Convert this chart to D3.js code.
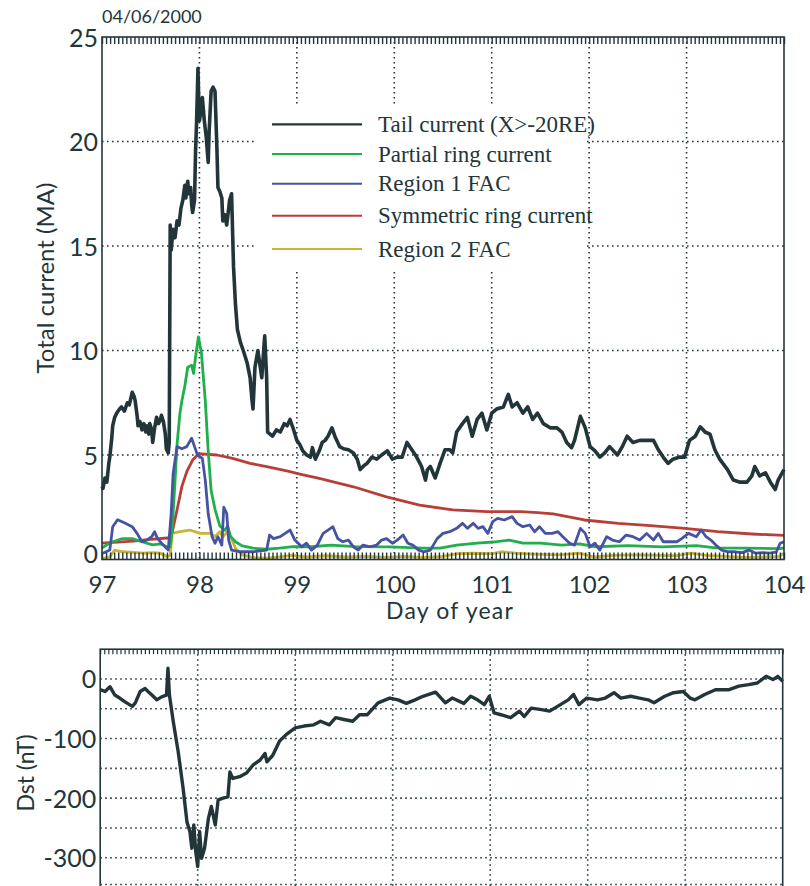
<!DOCTYPE html>
<html><head><meta charset="utf-8">
<script src="https://cdn.jsdelivr.net/npm/d3@7/dist/d3.min.js"></script>
<style>body{margin:0;background:#fff}svg{display:block}</style>
</head><body><svg id="c" width="810" height="886"></svg>
<script>
// ---------------- DATA ----------------
const dateLabel = "04/06/2000";
const dayTicks = [97, 98, 99, 100, 101, 102, 103, 104];
const currentTicks = [0, 5, 10, 15, 20, 25];
const currentGrid = [5, 10, 15, 20];
const dstTicks = [0, -100, -200, -300];
const dstGrid = [0, -50, -100, -150, -200, -250, -300];
const seriesNames = ["Tail current (X>-20RE)", "Partial ring current", "Region 1 FAC", "Symmetric ring current", "Region 2 FAC"];

const tailCurrent = [[97.00,3.5],[97.01,3.4],[97.03,3.9],[97.05,3.7],[97.07,4.6],[97.08,4.9],[97.10,5.8],[97.11,6.4],[97.13,6.8],[97.15,7.0],[97.18,7.2],[97.20,7.3],[97.23,7.1],[97.26,7.5],[97.28,7.4],[97.31,8.0],[97.33,7.8],[97.34,7.6],[97.36,6.9],[97.37,6.4],[97.39,6.6],[97.41,6.2],[97.43,6.5],[97.45,6.1],[97.46,6.4],[97.48,6.0],[97.49,6.5],[97.51,6.2],[97.52,5.6],[97.54,6.3],[97.56,6.8],[97.58,6.5],[97.60,6.7],[97.61,6.9],[97.63,6.6],[97.65,6.0],[97.66,5.3],[97.68,5.1],[97.69,5.6],[97.70,16.0],[97.71,14.8],[97.73,15.8],[97.75,15.4],[97.77,16.2],[97.79,16.0],[97.81,16.8],[97.83,17.2],[97.85,17.9],[97.86,17.3],[97.88,18.1],[97.89,17.5],[97.91,17.8],[97.92,17.0],[97.93,16.6],[97.95,17.2],[97.96,19.5],[97.97,20.8],[97.985,23.5],[97.99,22.5],[98.00,21.0],[98.02,21.6],[98.03,22.1],[98.05,21.0],[98.07,20.2],[98.09,19.0],[98.10,20.5],[98.12,22.4],[98.14,22.6],[98.16,22.4],[98.18,19.6],[98.19,17.8],[98.21,17.6],[98.23,17.3],[98.24,16.2],[98.26,16.5],[98.28,16.0],[98.30,16.8],[98.31,17.2],[98.33,17.5],[98.35,14.0],[98.37,12.2],[98.39,11.0],[98.42,10.4],[98.45,10.0],[98.49,9.4],[98.52,8.7],[98.54,7.6],[98.55,7.2],[98.57,9.2],[98.60,10.0],[98.64,8.7],[98.67,10.7],[98.69,8.7],[98.70,6.1],[98.75,5.9],[98.79,6.2],[98.83,6.1],[98.87,6.5],[98.90,6.4],[98.93,6.7],[98.96,6.3],[99.00,5.7],[99.03,5.5],[99.06,5.2],[99.10,5.0],[99.14,4.9],[99.16,5.35],[99.19,4.8],[99.23,5.2],[99.26,5.6],[99.29,5.7],[99.32,5.9],[99.36,6.3],[99.39,5.9],[99.44,5.4],[99.48,5.3],[99.53,5.25],[99.58,5.1],[99.62,4.8],[99.65,4.3],[99.69,4.5],[99.72,4.6],[99.77,4.9],[99.82,4.8],[99.87,5.0],[99.93,5.2],[99.98,4.8],[100.03,4.9],[100.08,4.9],[100.13,5.6],[100.18,5.25],[100.23,4.9],[100.28,4.45],[100.32,3.8],[100.34,4.3],[100.37,4.45],[100.42,3.9],[100.47,4.6],[100.52,5.25],[100.57,5.25],[100.60,5.1],[100.64,6.1],[100.70,6.5],[100.75,6.8],[100.80,5.9],[100.85,6.7],[100.90,7.0],[100.95,6.2],[101.00,7.0],[101.05,7.2],[101.12,7.3],[101.17,7.9],[101.21,7.3],[101.26,7.5],[101.32,7.0],[101.37,7.3],[101.42,6.7],[101.47,7.0],[101.53,6.5],[101.60,6.3],[101.67,6.3],[101.72,6.1],[101.77,5.6],[101.82,5.35],[101.85,5.7],[101.91,6.85],[101.96,6.3],[102.01,5.4],[102.06,5.2],[102.11,4.9],[102.16,5.1],[102.21,5.4],[102.29,5.0],[102.34,5.4],[102.39,5.9],[102.45,5.6],[102.52,5.7],[102.59,5.7],[102.66,5.7],[102.71,5.25],[102.76,4.9],[102.81,4.6],[102.86,4.8],[102.93,4.9],[102.98,4.9],[103.03,5.7],[103.09,5.9],[103.14,6.35],[103.19,6.1],[103.24,6.0],[103.29,5.25],[103.34,4.8],[103.42,4.3],[103.48,3.8],[103.55,3.7],[103.62,3.7],[103.67,4.0],[103.70,4.45],[103.75,4.0],[103.81,4.15],[103.86,3.7],[103.91,3.35],[103.94,3.8],[104.00,4.3]];

const partialRing = [[97.00,0.55],[97.05,0.7],[97.11,0.85],[97.21,1.0],[97.31,1.0],[97.41,0.85],[97.52,0.7],[97.60,0.75],[97.67,0.6],[97.70,0.6],[97.72,1.4],[97.75,3.8],[97.77,5.5],[97.80,7.0],[97.82,7.6],[97.85,8.3],[97.88,9.2],[97.92,9.3],[97.94,8.9],[97.96,9.7],[97.99,10.65],[98.02,9.9],[98.06,7.6],[98.09,5.2],[98.12,3.3],[98.16,2.4],[98.21,1.6],[98.26,1.4],[98.29,1.6],[98.32,1.1],[98.37,0.85],[98.44,0.65],[98.55,0.54],[98.69,0.49],[98.82,0.54],[98.96,0.62],[99.15,0.61],[99.35,0.69],[99.6,0.62],[99.95,0.6],[100.3,0.54],[100.47,0.54],[100.64,0.69],[100.85,0.78],[101.05,0.85],[101.18,0.93],[101.32,0.78],[101.5,0.78],[101.72,0.69],[101.9,0.75],[102.07,0.61],[102.4,0.66],[102.75,0.6],[103.1,0.66],[103.3,0.56],[103.6,0.54],[103.95,0.52],[104.0,0.55]];

const region1 = [[97.01,0.3],[97.08,0.45],[97.11,1.57],[97.16,1.9],[97.24,1.73],[97.31,1.57],[97.36,1.25],[97.41,0.85],[97.46,0.93],[97.51,1.09],[97.54,1.33],[97.57,1.0],[97.63,0.69],[97.68,0.45],[97.71,2.2],[97.73,4.1],[97.77,5.4],[97.82,5.3],[97.87,5.4],[97.92,5.8],[97.95,5.4],[97.98,5.0],[98.03,4.84],[98.06,3.8],[98.09,2.2],[98.13,1.09],[98.16,0.78],[98.19,1.09],[98.23,0.69],[98.25,2.5],[98.28,2.2],[98.30,0.93],[98.33,0.45],[98.42,0.37],[98.55,0.37],[98.69,0.45],[98.72,1.17],[98.76,1.0],[98.83,1.09],[98.88,1.25],[98.93,1.41],[98.98,0.93],[99.05,0.61],[99.10,0.78],[99.15,0.45],[99.21,0.69],[99.27,1.25],[99.32,1.41],[99.37,1.57],[99.42,1.0],[99.47,0.85],[99.53,0.93],[99.58,0.61],[99.63,0.45],[99.68,0.69],[99.75,0.61],[99.82,0.69],[99.87,0.93],[99.92,1.0],[99.98,0.78],[100.03,0.93],[100.09,1.17],[100.14,0.78],[100.19,0.69],[100.25,0.45],[100.30,0.37],[100.37,0.45],[100.44,1.0],[100.50,1.25],[100.57,1.33],[100.64,1.49],[100.70,1.73],[100.75,1.49],[100.81,1.73],[100.86,1.49],[100.91,1.57],[100.96,1.25],[101.01,1.81],[101.06,1.97],[101.13,1.89],[101.21,2.05],[101.26,1.73],[101.32,1.57],[101.39,1.65],[101.44,1.33],[101.49,1.57],[101.55,1.25],[101.62,1.25],[101.68,1.33],[101.73,1.09],[101.80,0.78],[101.85,0.69],[101.91,1.49],[101.96,1.25],[102.01,0.61],[102.06,0.78],[102.11,0.45],[102.18,1.09],[102.24,0.93],[102.31,0.85],[102.38,1.17],[102.45,1.09],[102.52,0.93],[102.59,1.25],[102.66,0.93],[102.71,1.25],[102.76,0.85],[102.83,0.85],[102.90,0.85],[102.95,1.0],[103.02,1.25],[103.10,1.09],[103.15,1.41],[103.20,1.09],[103.25,0.93],[103.30,0.69],[103.36,0.45],[103.43,0.37],[103.50,0.37],[103.57,0.33],[103.64,0.45],[103.71,0.3],[103.78,0.33],[103.85,0.3],[103.92,0.35],[103.96,0.78],[104.00,0.85]];

const symmetricRing = [[97.00,0.78],[97.32,0.88],[97.50,0.96],[97.70,1.04],[97.72,1.3],[97.77,2.37],[97.82,3.5],[97.87,4.2],[97.93,4.76],[97.99,5.05],[98.01,5.05],[98.18,5.0],[98.34,4.84],[98.52,4.6],[98.69,4.44],[98.86,4.28],[98.93,4.2],[99.03,4.09],[99.23,3.88],[99.58,3.48],[99.92,3.0],[100.26,2.6],[100.6,2.37],[100.95,2.29],[101.3,2.29],[101.47,2.24],[101.63,2.18],[101.95,1.89],[102.3,1.73],[102.63,1.62],[102.98,1.49],[103.32,1.33],[103.67,1.22],[104.0,1.15]];

const region2 = [[97.01,0.06],[97.08,0.13],[97.13,0.45],[97.21,0.37],[97.32,0.34],[97.42,0.3],[97.52,0.33],[97.60,0.3],[97.67,0.13],[97.70,0.2],[97.72,1.25],[97.80,1.33],[97.90,1.41],[98.01,1.25],[98.11,1.25],[98.16,1.09],[98.21,1.33],[98.24,1.09],[98.29,1.33],[98.32,1.09],[98.37,0.54],[98.44,0.22],[98.55,0.09],[98.69,0.06],[98.82,0.13],[98.95,0.2],[99.1,0.12],[99.3,0.18],[99.5,0.12],[99.7,0.15],[99.9,0.1],[100.1,0.15],[100.3,0.1],[100.5,0.15],[100.65,0.28],[100.8,0.3],[101.0,0.28],[101.1,0.37],[101.25,0.3],[101.5,0.25],[101.7,0.22],[101.9,0.3],[102.05,0.12],[102.25,0.2],[102.5,0.22],[102.7,0.2],[102.9,0.18],[103.05,0.3],[103.2,0.2],[103.4,0.15],[103.6,0.1],[103.8,0.12],[103.95,0.15],[104.0,0.3]];

const dst = [[97.00,-18],[97.05,-21],[97.10,-13],[97.15,-27],[97.20,-32],[97.25,-38],[97.33,-46],[97.36,-40],[97.41,-21],[97.46,-16],[97.49,-21],[97.53,-27],[97.58,-35],[97.63,-30],[97.68,-27],[97.695,18],[97.71,-27],[97.75,-72],[97.80,-122],[97.85,-183],[97.89,-240],[97.92,-256],[97.94,-284],[97.96,-245],[97.98,-290],[98.00,-315],[98.02,-256],[98.04,-301],[98.07,-284],[98.11,-234],[98.14,-214],[98.18,-245],[98.21,-203],[98.26,-200],[98.31,-198],[98.33,-156],[98.36,-167],[98.43,-164],[98.50,-158],[98.57,-144],[98.64,-136],[98.69,-125],[98.71,-139],[98.77,-128],[98.84,-104],[98.91,-93],[99.00,-82],[99.09,-79],[99.19,-77],[99.26,-71],[99.35,-77],[99.415,-65],[99.50,-68],[99.59,-71],[99.66,-60],[99.74,-60],[99.85,-40],[99.97,-32],[100.055,-35],[100.14,-41],[100.23,-35],[100.31,-29],[100.44,-22],[100.54,-40],[100.61,-32],[100.73,-41],[100.80,-29],[100.87,-35],[100.94,-43],[100.99,-29],[101.04,-57],[101.11,-60],[101.21,-65],[101.30,-54],[101.35,-63],[101.42,-49],[101.51,-51],[101.61,-54],[101.72,-43],[101.80,-35],[101.855,-26],[101.91,-43],[101.99,-32],[102.10,-35],[102.18,-32],[102.27,-23],[102.34,-32],[102.44,-29],[102.53,-32],[102.62,-35],[102.68,-40],[102.79,-29],[102.88,-23],[102.98,-21],[103.05,-32],[103.10,-35],[103.20,-26],[103.31,-18],[103.45,-18],[103.55,-12],[103.65,-9.5],[103.74,-6.7],[103.83,4.5],[103.90,-1],[103.95,4.5],[104.00,-4]];

// ---------------- DRAW ----------------
const ink = "#22363a";
const colors = ["#22363a", "#1fb04c", "#4652a2", "#b83f38", "#c9b532"];
const seriesData = [tailCurrent, partialRing, region1, symmetricRing, region2];
const svg = d3.select("#c");
const sans = "Lato, 'Open Sans', sans-serif";
const fmt = d => String(d); // plain hyphen-minus as in the reference

// top panel scales
const x1 = d3.scaleLinear().domain([97, 104]).range([102, 784]);
const y1 = d3.scaleLinear().domain([0, 25]).range([559.5, 37]);
// bottom panel scales
const x2 = d3.scaleLinear().domain([97, 104]).range([100.2, 782.7]);
const y2 = d3.scaleLinear().domain([-350, 50]).range([887.5, 649.2]);

const hours = d3.range(0, 7 * 24 + 1).map(i => 97 + i / 24);
const dots = {stroke: ink, "stroke-width": 1.6, "stroke-dasharray": "1.6,3.4"};
function applyAttrs(sel, a) { for (const k in a) sel.attr(k, a[k]); return sel; }

// ---- top panel ----
const g1 = svg.append("g");
currentGrid.forEach(v => {
  applyAttrs(g1.append("line").attr("x1", x1(97)).attr("x2", x1(104)).attr("y1", y1(v)).attr("y2", y1(v)), dots);
});
dayTicks.slice(1, -1).forEach(d => {
  applyAttrs(g1.append("line").attr("x1", x1(d)).attr("x2", x1(d)).attr("y1", y1(25)).attr("y2", y1(0)), dots);
});
// legend background covers part of the grid
g1.append("rect").attr("x", 254).attr("y", 104).attr("width", 332).attr("height", 168).attr("fill", "#fff");

const line1 = d3.line().x(d => x1(d[0])).y(d => y1(d[1]));
[4, 3, 1, 2, 0].forEach(i => {
  g1.append("path").datum(seriesData[i]).attr("d", line1)
    .attr("fill", "none").attr("stroke", colors[i])
    .attr("stroke-width", i === 0 ? 3.6 : 2.8).attr("stroke-linejoin", "round");
});

g1.append("rect").attr("x", x1(97)).attr("y", y1(25)).attr("width", x1(104) - x1(97)).attr("height", y1(0) - y1(25))
  .attr("fill", "none").attr("stroke", ink).attr("stroke-width", 1.6);
const topAx = g1.append("g").attr("transform", `translate(0,${y1(25)})`)
  .call(d3.axisBottom(x1).tickValues(hours).tickSize(7).tickFormat(""));
const botAx = g1.append("g").attr("transform", `translate(0,${y1(0)})`)
  .call(d3.axisTop(x1).tickValues(hours).tickSize(7).tickFormat(""));
[topAx, botAx].forEach(a => { a.select(".domain").remove(); a.selectAll("line").attr("stroke", ink).attr("stroke-width", 1.4); });

const xl = g1.append("g").attr("transform", `translate(0,${y1(0) + 12})`)
  .call(d3.axisBottom(x1).tickValues(dayTicks).tickSize(0).tickPadding(0).tickFormat(fmt));
xl.select(".domain").remove();
xl.selectAll("text").attr("font-family", sans).attr("font-size", 24).attr("fill", ink).attr("dy", "0.88em");
const yl = g1.append("g").attr("transform", `translate(${x1(97) - 4},0)`)
  .call(d3.axisLeft(y1).tickValues(currentTicks).tickSize(0).tickPadding(0).tickFormat(fmt));
yl.select(".domain").remove();
yl.selectAll("text").attr("font-family", sans).attr("font-size", 25).attr("fill", ink)
  .attr("dy", d => d === 0 ? "0.1em" : "0.36em");

svg.append("text").attr("x", 450).attr("y", 619).attr("text-anchor", "middle")
  .attr("font-family", sans).attr("font-size", 23).attr("letter-spacing", 1.2).attr("fill", ink).text("Day of year");
svg.append("text").attr("transform", "translate(54,278) rotate(-90)").attr("text-anchor", "middle")
  .attr("font-family", sans).attr("font-size", 24).attr("fill", ink).text("Total current (MA)");
svg.append("text").attr("x", 102).attr("y", 23)
  .attr("font-family", sans).attr("font-size", 18).attr("fill", ink).text(dateLabel);

const legY = [124.3, 154, 183.7, 215.7, 249];
seriesNames.forEach((name, i) => {
  g1.append("line").attr("x1", 272).attr("x2", 362).attr("y1", legY[i]).attr("y2", legY[i])
    .attr("stroke", colors[i]).attr("stroke-width", i === 0 ? 2.2 : 2);
  g1.append("text").attr("x", 378).attr("y", legY[i] + 7.5)
    .attr("font-family", "'Liberation Serif', 'Times New Roman', serif").attr("font-size", 23)
    .attr("fill", ink).text(name);
});

// ---- bottom panel ----
const g2 = svg.append("g");
dstGrid.forEach(v => {
  applyAttrs(g2.append("line").attr("x1", x2(97)).attr("x2", x2(104)).attr("y1", y2(v)).attr("y2", y2(v)), dots);
});
applyAttrs(g2.append("line").attr("x1", x2(97)).attr("x2", x2(104)).attr("y1", 884.5).attr("y2", 884.5), dots);
dayTicks.slice(1, -1).forEach(d => {
  applyAttrs(g2.append("line").attr("x1", x2(d)).attr("x2", x2(d)).attr("y1", y2(50)).attr("y2", y2(-350)), dots);
});
const line2 = d3.line().x(d => x2(d[0])).y(d => y2(d[1]));
g2.append("path").datum(dst).attr("d", line2).attr("fill", "none").attr("stroke", ink)
  .attr("stroke-width", 3.4).attr("stroke-linejoin", "round");
g2.append("rect").attr("x", x2(97)).attr("y", y2(50)).attr("width", x2(104) - x2(97)).attr("height", y2(-350) - y2(50))
  .attr("fill", "none").attr("stroke", ink).attr("stroke-width", 1.6);
const topAx2 = g2.append("g").attr("transform", `translate(0,${y2(50)})`)
  .call(d3.axisBottom(x2).tickValues(hours).tickSize(5).tickFormat(""));
topAx2.select(".domain").remove();
topAx2.selectAll("line").attr("stroke", ink).attr("stroke-width", 1.2);
const yl2 = g2.append("g").attr("transform", `translate(${x2(97) - 4},0)`)
  .call(d3.axisLeft(y2).tickValues(dstTicks).tickSize(0).tickPadding(0).tickFormat(fmt));
yl2.select(".domain").remove();
yl2.selectAll("text").attr("font-family", sans).attr("font-size", 25).attr("fill", ink).attr("dy", "0.36em");
svg.append("text").attr("transform", "translate(34,773) rotate(-90)").attr("text-anchor", "middle")
  .attr("font-family", sans).attr("font-size", 23).attr("fill", ink).text("Dst (nT)");
</script></body></html>
